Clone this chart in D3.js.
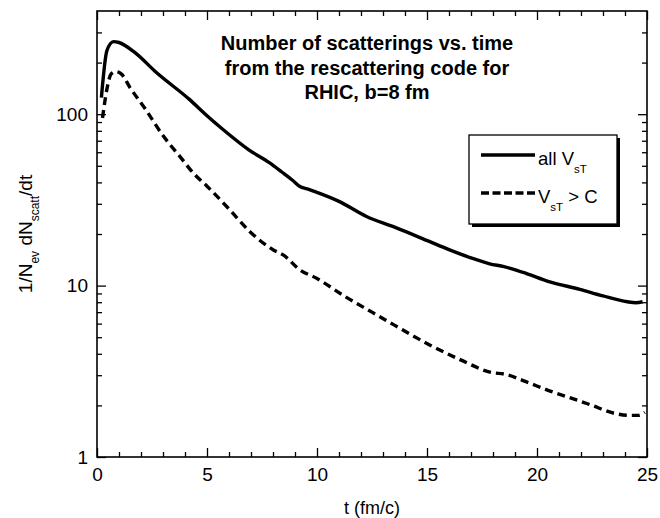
<!DOCTYPE html>
<html lang="en">
<head>
    <meta charset="UTF-8">
    <title>Number of scatterings vs. time</title>
    <script src="https://d3js.org/d3.v7.min.js"></script>
    <style>
        body { margin: 0; background: #fff; }
        text { font-family: "Liberation Sans", Arial, Helvetica, sans-serif; fill: #000; }
    </style>
</head>
<body>
    <svg id="chart" width="660" height="518"></svg>

    <script>
        // data
        const tAll = [0.2, 0.45, 0.75, 1.0, 1.7, 2.7, 4.2, 5.0, 5.7, 6.9, 7.85, 8.4, 8.9, 9.2, 9.6, 10.0, 11.0, 12.25, 13.5, 15.1, 16.0, 17.0, 17.85, 18.5, 19.5, 20.5, 21.95, 23.0, 24.1, 24.5, 24.8];
        const allVsT = [125, 235, 265, 262, 230, 175, 122, 98, 82, 62, 52, 46, 41, 38, 36.5, 35, 31, 25.3, 22, 18.1, 16.2, 14.5, 13.4, 12.9, 11.8, 10.6, 9.5, 8.7, 8.05, 7.95, 8.05];

        const tFast = [0.25, 0.45, 0.65, 0.85, 1.1, 1.5, 2.2, 3.0, 3.8, 4.4, 5.0, 6.0, 6.94, 8.0, 8.5, 9.2, 10.0, 11.3, 12.5, 13.5, 15.1, 16.5, 18.0, 18.5, 19.5, 20.5, 21.95, 22.5, 23.5, 24.2, 24.6, 24.9];
        const vsTgtC = [95, 140, 172, 177, 172, 143, 107, 75, 56, 45, 38, 28, 20.7, 16.2, 15, 12.4, 11, 8.6, 7.0, 5.9, 4.52, 3.7, 3.1, 3.05, 2.75, 2.45, 2.12, 2.0, 1.8, 1.75, 1.75, 1.82];

        const xTicks = [0, 5, 10, 15, 20, 25];
        const yTicks = [1, 10, 100];
        const titleLines = ["Number of scatterings vs. time", "from the rescattering code for", "RHIC, b=8 fm"];

        const width = 660, height = 518;
        const margin = { top: 11, right: 13, bottom: 61, left: 97 };

        const svg = d3.select("#chart");

        const x = d3.scaleLinear()
            .domain([0, 25])
            .range([margin.left, width - margin.right]);

        const y = d3.scaleLog()
            .domain([1, 400])
            .range([height - margin.bottom, margin.top]);

        const minorX = d3.range(0, 26, 1).filter(d => d % 5 !== 0);
        const minorY = [];
        [1, 10, 100].forEach(dec => {
            for (let k = 2; k <= 9; k++) if (dec * k < 400) minorY.push(dec * k);
        });

        // axes, ticks inward on all four sides
        const axisG = svg.append("g").attr("class", "axes");

        axisG.append("g")
            .attr("transform", `translate(0,${height - margin.bottom})`)
            .call(d3.axisBottom(x).tickValues(xTicks).tickSize(-9).tickPadding(11).tickFormat(d3.format("d")));
        axisG.append("g")
            .attr("transform", `translate(0,${height - margin.bottom})`)
            .call(d3.axisBottom(x).tickValues(minorX).tickSize(-5).tickFormat(""));
        axisG.append("g")
            .attr("transform", `translate(0,${margin.top})`)
            .call(d3.axisTop(x).tickValues(xTicks).tickSize(-9).tickFormat(""));
        axisG.append("g")
            .attr("transform", `translate(0,${margin.top})`)
            .call(d3.axisTop(x).tickValues(minorX).tickSize(-5).tickFormat(""));

        axisG.append("g")
            .attr("transform", `translate(${margin.left},0)`)
            .call(d3.axisLeft(y).tickValues(yTicks).tickSize(-9).tickPadding(9).tickFormat(d3.format("d")));
        axisG.append("g")
            .attr("transform", `translate(${margin.left},0)`)
            .call(d3.axisLeft(y).tickValues(minorY).tickSize(-5).tickFormat(""));
        axisG.append("g")
            .attr("transform", `translate(${width - margin.right},0)`)
            .call(d3.axisRight(y).tickValues(yTicks).tickSize(-9).tickFormat(""));
        axisG.append("g")
            .attr("transform", `translate(${width - margin.right},0)`)
            .call(d3.axisRight(y).tickValues(minorY).tickSize(-5).tickFormat(""));

        axisG.selectAll(".domain").remove();
        axisG.selectAll("line").attr("stroke", "#000").attr("stroke-width", 1.3);
        axisG.selectAll("text")
            .style("font-size", "19px")
            .style("font-family", "'Liberation Sans', Arial, sans-serif");

        // frame
        svg.append("rect")
            .attr("x", margin.left)
            .attr("y", margin.top)
            .attr("width", width - margin.left - margin.right)
            .attr("height", height - margin.top - margin.bottom)
            .attr("fill", "none")
            .attr("stroke", "#000")
            .attr("stroke-width", 1.6);

        // curves
        const line = d3.line()
            .x(d => x(d[0]))
            .y(d => y(d[1]))
            .curve(d3.curveMonotoneX);

        svg.append("path")
            .datum(d3.zip(tAll, allVsT))
            .attr("d", line)
            .attr("fill", "none")
            .attr("stroke", "#000")
            .attr("stroke-width", 3.4);

        svg.append("path")
            .datum(d3.zip(tFast, vsTgtC))
            .attr("d", line)
            .attr("fill", "none")
            .attr("stroke", "#000")
            .attr("stroke-width", 3.4)
            .attr("stroke-dasharray", "8,5");

        // title
        svg.append("g")
            .selectAll("text")
            .data(titleLines)
            .join("text")
            .attr("x", 367)
            .attr("y", (d, i) => 50 + i * 24.5)
            .attr("text-anchor", "middle")
            .style("font-size", "20px")
            .style("font-weight", "bold")
            .text(d => d);

        // axis titles
        svg.append("text")
            .attr("x", (margin.left + width - margin.right) / 2)
            .attr("y", 514)
            .attr("text-anchor", "middle")
            .style("font-size", "18px")
            .text("t (fm/c)");

        const yLab = svg.append("text")
            .attr("transform", `translate(32,${(margin.top + height - margin.bottom) / 2}) rotate(-90)`)
            .attr("text-anchor", "middle")
            .style("font-size", "19px");
        yLab.append("tspan").text("1/N");
        yLab.append("tspan").attr("dy", 7).style("font-size", "12px").text("ev");
        yLab.append("tspan").attr("dy", -7).text(" dN");
        yLab.append("tspan").attr("dy", 7).style("font-size", "12px").text("scatt");
        yLab.append("tspan").attr("dy", -7).text("/dt");

        // legend with drop shadow
        const lg = svg.append("g").attr("transform", "translate(469,135)");
        lg.append("rect")
            .attr("x", 3).attr("y", 3)
            .attr("width", 148).attr("height", 89)
            .attr("fill", "#000");
        lg.append("rect")
            .attr("width", 148).attr("height", 89)
            .attr("fill", "#fff")
            .attr("stroke", "#000")
            .attr("stroke-width", 1.3);

        lg.append("line")
            .attr("x1", 12).attr("x2", 66).attr("y1", 20).attr("y2", 20)
            .attr("stroke", "#000").attr("stroke-width", 3.4);
        lg.append("line")
            .attr("x1", 12).attr("x2", 66).attr("y1", 58).attr("y2", 58)
            .attr("stroke", "#000").attr("stroke-width", 3.4)
            .attr("stroke-dasharray", "8,3.5");

        const l1 = lg.append("text").attr("x", 69).attr("y", 30).style("font-size", "18.5px");
        l1.append("tspan").text("all V");
        l1.append("tspan").attr("dy", 8).style("font-size", "11.5px").text("sT");

        const l2 = lg.append("text").attr("x", 69).attr("y", 68).style("font-size", "18.5px");
        l2.append("tspan").text("V");
        l2.append("tspan").attr("dy", 8).style("font-size", "11.5px").text("sT");
        l2.append("tspan").attr("dy", -8).text(" > C");
    </script>
</body>
</html>
